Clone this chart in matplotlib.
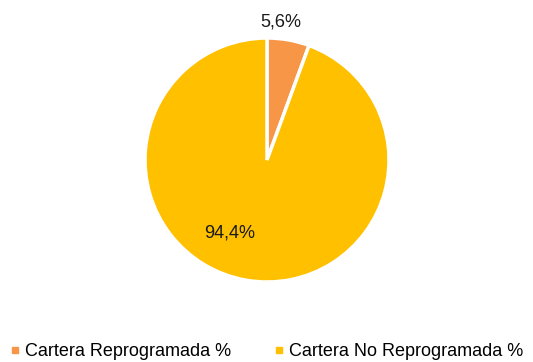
import matplotlib.pyplot as plt
from matplotlib.lines import Line2D

plt.rcParams['font.family'] = ['Liberation Sans', 'DejaVu Sans']

# data
categories = ["Cartera Reprogramada %", "Cartera No Reprogramada %"]
values = [5.6, 94.4]
value_labels = ["5,6%", "94,4%"]
colors = ["#F79646", "#FFC000"]

W, H = 533, 362
fig = plt.figure(figsize=(W / 100, H / 100), dpi=100)

# pie area: centre ~(267,160), radius ~122 px
cx, cy, r = 267, 160, 122
ax = fig.add_axes([(cx - r) / W, (H - cy - r) / H, 2 * r / W, 2 * r / H])

wedges, _ = ax.pie(values, colors=colors, startangle=90, counterclock=False,
                   wedgeprops=dict(edgecolor="white", linewidth=2.5))
ax.set_xlim(-1, 1)
ax.set_ylim(-1, 1)
ax.set_aspect("equal")

# data labels (Excel style: small one outside, big one inside)
label_pos = [(0.115, 1.13), (-0.31, -0.60)]
for txt, (x, y) in zip(value_labels, label_pos):
    ax.text(x, y, txt, ha="center", va="center", fontsize=13, color="#1a1a1a")

handles = [Line2D([], [], marker="s", linestyle="none", markersize=5,
                  markerfacecolor=c, markeredgecolor=c) for c in colors]
fig.legend(handles, categories, loc="center", ncol=2,
           bbox_to_anchor=(0.5, (H - 352) / H), frameon=False,
           fontsize=13, handlelength=0.5, handletextpad=0.3,
           columnspacing=2.4, borderpad=0, borderaxespad=0)

fig.savefig("out.png", dpi=100)
